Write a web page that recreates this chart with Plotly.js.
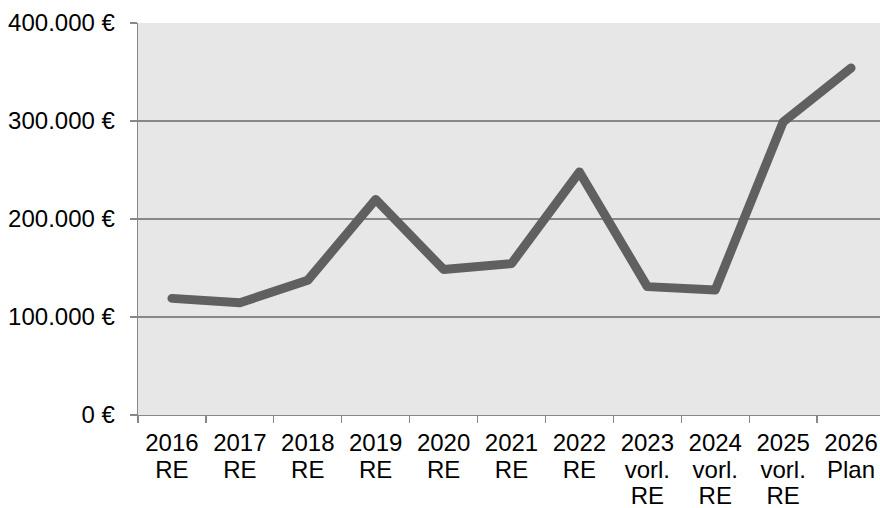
<!DOCTYPE html>
<html>
<head>
<meta charset="utf-8">
<script src="https://cdn.plot.ly/plotly-3.0.1.min.js"></script>
<style>
html,body{margin:0;padding:0;overflow:hidden;background:#fff;width:880px;height:508px}
#chart{width:888px;height:508px}
.scatterlayer path.js-line{stroke-linecap:round;stroke-linejoin:round}
</style>
</head>
<body>
<div id="chart"></div>
<script>
const categories = ["2016<br>RE","2017<br>RE","2018<br>RE","2019<br>RE","2020<br>RE","2021<br>RE","2022<br>RE","2023<br>vorl.<br>RE","2024<br>vorl.<br>RE","2025<br>vorl.<br>RE","2026<br>Plan"];
const values = [119000, 114500, 137500, 220000, 148500, 154500, 248000, 131000, 127500, 299000, 354000];
const yTicks = [0, 100000, 200000, 300000, 400000];
const yTickLabels = ["0 €", "100.000 €", "200.000 €", "300.000 €", "400.000 €"];

Plotly.newPlot("chart", [{
  type: "scatter",
  mode: "lines",
  x: categories,
  y: values,
  line: {color: "#606060", width: 9},
  hoverinfo: "none"
}], {
  width: 888,
  height: 508,
  margin: {l: 138, r: 3, t: 23, b: 93},
  paper_bgcolor: "#ffffff",
  plot_bgcolor: "#e7e7e7",
  showlegend: false,
  font: {family: "Liberation Sans, Arial, sans-serif", size: 24, color: "#000000"},
  xaxis: {
    type: "category",
    range: [-0.5, categories.length - 0.5],
    tickson: "boundaries",
    ticks: "outside",
    ticklen: 7,
    tickwidth: 1.3,
    tickcolor: "#888888",
    showline: true,
    linecolor: "#888888",
    linewidth: 1.3,
    showgrid: false,
    zeroline: false,
    ticklabelstandoff: 6,
    tickfont: {size: 24},
    fixedrange: true
  },
  yaxis: {
    range: [0, 400000],
    tickvals: yTicks,
    ticktext: yTickLabels,
    ticks: "outside",
    ticklen: 7,
    tickwidth: 1.3,
    tickcolor: "#888888",
    showline: true,
    linecolor: "#888888",
    linewidth: 1.3,
    showgrid: true,
    gridcolor: "#888888",
    gridwidth: 1.3,
    zeroline: false,
    ticklabelstandoff: 10,
    tickfont: {size: 24},
    fixedrange: true
  }
}, {staticPlot: true, displayModeBar: false}).then(function () {
  document.querySelectorAll(".xtick text").forEach(function (txt) {
    const lines = txt.querySelectorAll("tspan.line");
    lines.forEach(function (t, i) {
      if (i > 0) t.setAttribute("dy", (i * 1.1) + "em");
    });
  });
});
</script>
</body>
</html>
